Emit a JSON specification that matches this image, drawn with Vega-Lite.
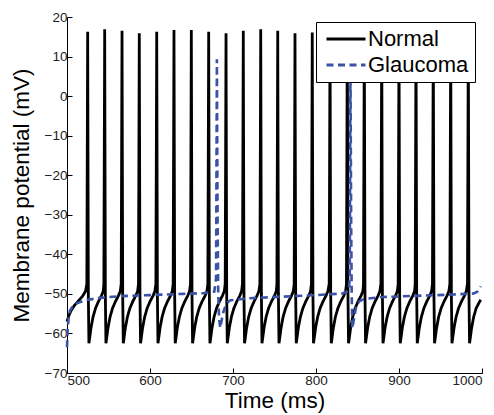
{
"$schema": "https://vega.github.io/schema/vega-lite/v6.json",
"width": 415, "height": 356,
"autosize": {"type": "none"},
"padding": {"left": 67, "top": 17, "right": 12, "bottom": 42},
"background": "white",
"datasets": {
"normal": [
{"s":"Normal","t":500,"v":-57},{"s":"Normal","t":502,"v":-55.6},{"s":"Normal","t":505,"v":-54.2},{"s":"Normal","t":509,"v":-52.9},{"s":"Normal","t":514,"v":-51.7},{"s":"Normal","t":519,"v":-50.5},{"s":"Normal","t":522.4,"v":-49.3},
{"s":"Normal","t":523.9,"v":-47.5},{"s":"Normal","t":524.9,"v":16.3},{"s":"Normal","t":525.7,"v":-50},{"s":"Normal","t":526.4,"v":-62.5},{"s":"Normal","t":527.4,"v":-61},{"s":"Normal","t":528.9,"v":-58.6},{"s":"Normal","t":531.4,"v":-55.8},{"s":"Normal","t":534.4,"v":-53.6},{"s":"Normal","t":537.9,"v":-51.9},{"s":"Normal","t":541.4,"v":-50.5},{"s":"Normal","t":543.7,"v":-49.3},
{"s":"Normal","t":544.4,"v":-47.5},{"s":"Normal","t":545.4,"v":16.9},{"s":"Normal","t":546.2,"v":-50},{"s":"Normal","t":546.9,"v":-62.5},{"s":"Normal","t":547.9,"v":-61},{"s":"Normal","t":549.4,"v":-58.6},{"s":"Normal","t":551.9,"v":-55.8},{"s":"Normal","t":554.9,"v":-53.6},{"s":"Normal","t":558.4,"v":-51.9},{"s":"Normal","t":561.9,"v":-50.5},{"s":"Normal","t":564.2,"v":-49.3},
{"s":"Normal","t":565.3,"v":-47.5},{"s":"Normal","t":566.3,"v":16.5},{"s":"Normal","t":567.1,"v":-50},{"s":"Normal","t":567.8,"v":-62.5},{"s":"Normal","t":568.8,"v":-61},{"s":"Normal","t":570.3,"v":-58.6},{"s":"Normal","t":572.8,"v":-55.8},{"s":"Normal","t":575.8,"v":-53.6},{"s":"Normal","t":579.3,"v":-51.9},{"s":"Normal","t":582.8,"v":-50.5},{"s":"Normal","t":585.1,"v":-49.3},
{"s":"Normal","t":586.1,"v":-47.5},{"s":"Normal","t":587.1,"v":15.9},{"s":"Normal","t":587.9,"v":-50},{"s":"Normal","t":588.6,"v":-62.5},{"s":"Normal","t":589.6,"v":-61},{"s":"Normal","t":591.1,"v":-58.6},{"s":"Normal","t":593.6,"v":-55.8},{"s":"Normal","t":596.6,"v":-53.6},{"s":"Normal","t":600.1,"v":-51.9},{"s":"Normal","t":603.6,"v":-50.5},{"s":"Normal","t":605.9,"v":-49.3},
{"s":"Normal","t":607.1,"v":-47.5},{"s":"Normal","t":608.1,"v":16.3},{"s":"Normal","t":608.9,"v":-50},{"s":"Normal","t":609.6,"v":-62.5},{"s":"Normal","t":610.6,"v":-61},{"s":"Normal","t":612.1,"v":-58.6},{"s":"Normal","t":614.6,"v":-55.8},{"s":"Normal","t":617.6,"v":-53.6},{"s":"Normal","t":621.1,"v":-51.9},{"s":"Normal","t":624.6,"v":-50.5},{"s":"Normal","t":626.9,"v":-49.3},
{"s":"Normal","t":627.9,"v":-47.5},{"s":"Normal","t":628.9,"v":16.7},{"s":"Normal","t":629.7,"v":-50},{"s":"Normal","t":630.4,"v":-62.5},{"s":"Normal","t":631.4,"v":-61},{"s":"Normal","t":632.9,"v":-58.6},{"s":"Normal","t":635.4,"v":-55.8},{"s":"Normal","t":638.4,"v":-53.6},{"s":"Normal","t":641.9,"v":-51.9},{"s":"Normal","t":645.4,"v":-50.5},{"s":"Normal","t":647.7,"v":-49.3},
{"s":"Normal","t":648.8,"v":-47.5},{"s":"Normal","t":649.8,"v":16.7},{"s":"Normal","t":650.6,"v":-50},{"s":"Normal","t":651.3,"v":-62.5},{"s":"Normal","t":652.3,"v":-61},{"s":"Normal","t":653.8,"v":-58.6},{"s":"Normal","t":656.3,"v":-55.8},{"s":"Normal","t":659.3,"v":-53.6},{"s":"Normal","t":662.8,"v":-51.9},{"s":"Normal","t":666.3,"v":-50.5},{"s":"Normal","t":668.6,"v":-49.3},
{"s":"Normal","t":669.7,"v":-47.5},{"s":"Normal","t":670.7,"v":16.3},{"s":"Normal","t":671.5,"v":-50},{"s":"Normal","t":672.2,"v":-62.5},{"s":"Normal","t":673.2,"v":-61},{"s":"Normal","t":674.7,"v":-58.6},{"s":"Normal","t":677.2,"v":-55.8},{"s":"Normal","t":680.2,"v":-53.6},{"s":"Normal","t":683.7,"v":-51.9},{"s":"Normal","t":687.2,"v":-50.5},{"s":"Normal","t":689.5,"v":-49.3},
{"s":"Normal","t":690.6,"v":-47.5},{"s":"Normal","t":691.6,"v":15.9},{"s":"Normal","t":692.4,"v":-50},{"s":"Normal","t":693.1,"v":-62.5},{"s":"Normal","t":694.1,"v":-61},{"s":"Normal","t":695.6,"v":-58.6},{"s":"Normal","t":698.1,"v":-55.8},{"s":"Normal","t":701.1,"v":-53.6},{"s":"Normal","t":704.6,"v":-51.9},{"s":"Normal","t":708.1,"v":-50.5},{"s":"Normal","t":710.4,"v":-49.3},
{"s":"Normal","t":711.4,"v":-47.5},{"s":"Normal","t":712.4,"v":16.5},{"s":"Normal","t":713.2,"v":-50},{"s":"Normal","t":713.9,"v":-62.5},{"s":"Normal","t":714.9,"v":-61},{"s":"Normal","t":716.4,"v":-58.6},{"s":"Normal","t":718.9,"v":-55.8},{"s":"Normal","t":721.9,"v":-53.6},{"s":"Normal","t":725.4,"v":-51.9},{"s":"Normal","t":728.9,"v":-50.5},{"s":"Normal","t":731.2,"v":-49.3},
{"s":"Normal","t":732.4,"v":-47.5},{"s":"Normal","t":733.4,"v":16.9},{"s":"Normal","t":734.2,"v":-50},{"s":"Normal","t":734.9,"v":-62.5},{"s":"Normal","t":735.9,"v":-61},{"s":"Normal","t":737.4,"v":-58.6},{"s":"Normal","t":739.9,"v":-55.8},{"s":"Normal","t":742.9,"v":-53.6},{"s":"Normal","t":746.4,"v":-51.9},{"s":"Normal","t":749.9,"v":-50.5},{"s":"Normal","t":752.2,"v":-49.3},
{"s":"Normal","t":752.9,"v":-47.5},{"s":"Normal","t":753.9,"v":16.5},{"s":"Normal","t":754.7,"v":-50},{"s":"Normal","t":755.4,"v":-62.5},{"s":"Normal","t":756.4,"v":-61},{"s":"Normal","t":757.9,"v":-58.6},{"s":"Normal","t":760.4,"v":-55.8},{"s":"Normal","t":763.4,"v":-53.6},{"s":"Normal","t":766.9,"v":-51.9},{"s":"Normal","t":770.4,"v":-50.5},{"s":"Normal","t":772.7,"v":-49.3},
{"s":"Normal","t":773.7,"v":-47.5},{"s":"Normal","t":774.7,"v":15.9},{"s":"Normal","t":775.5,"v":-50},{"s":"Normal","t":776.2,"v":-62.5},{"s":"Normal","t":777.2,"v":-61},{"s":"Normal","t":778.7,"v":-58.6},{"s":"Normal","t":781.2,"v":-55.8},{"s":"Normal","t":784.2,"v":-53.6},{"s":"Normal","t":787.7,"v":-51.9},{"s":"Normal","t":791.2,"v":-50.5},{"s":"Normal","t":793.5,"v":-49.3},
{"s":"Normal","t":794.5,"v":-47.5},{"s":"Normal","t":795.5,"v":16.1},{"s":"Normal","t":796.3,"v":-50},{"s":"Normal","t":797,"v":-62.5},{"s":"Normal","t":798,"v":-61},{"s":"Normal","t":799.5,"v":-58.6},{"s":"Normal","t":802,"v":-55.8},{"s":"Normal","t":805,"v":-53.6},{"s":"Normal","t":808.5,"v":-51.9},{"s":"Normal","t":812,"v":-50.5},{"s":"Normal","t":814.3,"v":-49.3},
{"s":"Normal","t":815.9,"v":-47.5},{"s":"Normal","t":816.9,"v":16.3},{"s":"Normal","t":817.7,"v":-50},{"s":"Normal","t":818.4,"v":-62.5},{"s":"Normal","t":819.4,"v":-61},{"s":"Normal","t":820.9,"v":-58.6},{"s":"Normal","t":823.4,"v":-55.8},{"s":"Normal","t":826.4,"v":-53.6},{"s":"Normal","t":829.9,"v":-51.9},{"s":"Normal","t":833.4,"v":-50.5},{"s":"Normal","t":835.7,"v":-49.3},
{"s":"Normal","t":836.7,"v":-47.5},{"s":"Normal","t":837.7,"v":16.5},{"s":"Normal","t":838.5,"v":-50},{"s":"Normal","t":839.2,"v":-62.5},{"s":"Normal","t":840.2,"v":-61},{"s":"Normal","t":841.7,"v":-58.6},{"s":"Normal","t":844.2,"v":-55.8},{"s":"Normal","t":847.2,"v":-53.6},{"s":"Normal","t":850.7,"v":-51.9},{"s":"Normal","t":854.2,"v":-50.5},{"s":"Normal","t":856.5,"v":-49.3},
{"s":"Normal","t":857.2,"v":-47.5},{"s":"Normal","t":858.2,"v":16.7},{"s":"Normal","t":859,"v":-50},{"s":"Normal","t":859.7,"v":-62.5},{"s":"Normal","t":860.7,"v":-61},{"s":"Normal","t":862.2,"v":-58.6},{"s":"Normal","t":864.7,"v":-55.8},{"s":"Normal","t":867.7,"v":-53.6},{"s":"Normal","t":871.2,"v":-51.9},{"s":"Normal","t":874.7,"v":-50.5},{"s":"Normal","t":877,"v":-49.3},
{"s":"Normal","t":878.2,"v":-47.5},{"s":"Normal","t":879.2,"v":16.3},{"s":"Normal","t":880,"v":-50},{"s":"Normal","t":880.7,"v":-62.5},{"s":"Normal","t":881.7,"v":-61},{"s":"Normal","t":883.2,"v":-58.6},{"s":"Normal","t":885.7,"v":-55.8},{"s":"Normal","t":888.7,"v":-53.6},{"s":"Normal","t":892.2,"v":-51.9},{"s":"Normal","t":895.7,"v":-50.5},{"s":"Normal","t":898,"v":-49.3},
{"s":"Normal","t":899,"v":-47.5},{"s":"Normal","t":900,"v":16.1},{"s":"Normal","t":900.8,"v":-50},{"s":"Normal","t":901.5,"v":-62.5},{"s":"Normal","t":902.5,"v":-61},{"s":"Normal","t":904,"v":-58.6},{"s":"Normal","t":906.5,"v":-55.8},{"s":"Normal","t":909.5,"v":-53.6},{"s":"Normal","t":913,"v":-51.9},{"s":"Normal","t":916.5,"v":-50.5},{"s":"Normal","t":918.8,"v":-49.3},
{"s":"Normal","t":919.5,"v":-47.5},{"s":"Normal","t":920.5,"v":16.5},{"s":"Normal","t":921.3,"v":-50},{"s":"Normal","t":922,"v":-62.5},{"s":"Normal","t":923,"v":-61},{"s":"Normal","t":924.5,"v":-58.6},{"s":"Normal","t":927,"v":-55.8},{"s":"Normal","t":930,"v":-53.6},{"s":"Normal","t":933.5,"v":-51.9},{"s":"Normal","t":937,"v":-50.5},{"s":"Normal","t":939.3,"v":-49.3},
{"s":"Normal","t":940.3,"v":-47.5},{"s":"Normal","t":941.3,"v":16.7},{"s":"Normal","t":942.1,"v":-50},{"s":"Normal","t":942.8,"v":-62.5},{"s":"Normal","t":943.8,"v":-61},{"s":"Normal","t":945.3,"v":-58.6},{"s":"Normal","t":947.8,"v":-55.8},{"s":"Normal","t":950.8,"v":-53.6},{"s":"Normal","t":954.3,"v":-51.9},{"s":"Normal","t":957.8,"v":-50.5},{"s":"Normal","t":960.1,"v":-49.3},
{"s":"Normal","t":961.3,"v":-47.5},{"s":"Normal","t":962.3,"v":16.3},{"s":"Normal","t":963.1,"v":-50},{"s":"Normal","t":963.8,"v":-62.5},{"s":"Normal","t":964.8,"v":-61},{"s":"Normal","t":966.3,"v":-58.6},{"s":"Normal","t":968.8,"v":-55.8},{"s":"Normal","t":971.8,"v":-53.6},{"s":"Normal","t":975.3,"v":-51.9},{"s":"Normal","t":978.8,"v":-50.5},{"s":"Normal","t":981.1,"v":-49.3},
{"s":"Normal","t":982.5,"v":-47.5},{"s":"Normal","t":983.5,"v":16.5},{"s":"Normal","t":984.3,"v":-50},{"s":"Normal","t":985,"v":-62.5},{"s":"Normal","t":986,"v":-61},{"s":"Normal","t":987.5,"v":-58.6},{"s":"Normal","t":990,"v":-55.8},{"s":"Normal","t":993,"v":-53.6},{"s":"Normal","t":996.5,"v":-52.2},{"s":"Normal","t":998.5,"v":-51.5}
],
"glaucoma": [
{"s":"Glaucoma","t":500,"v":-63.5},{"s":"Glaucoma","t":500.8,"v":-59},{"s":"Glaucoma","t":502,"v":-56},{"s":"Glaucoma","t":503.6,"v":-54.2},{"s":"Glaucoma","t":507,"v":-53.1},{"s":"Glaucoma","t":511.7,"v":-52.4},{"s":"Glaucoma","t":521.7,"v":-51.6},{"s":"Glaucoma","t":540,"v":-51},{"s":"Glaucoma","t":562,"v":-50.6},{"s":"Glaucoma","t":600,"v":-50.3},{"s":"Glaucoma","t":640,"v":-50},{"s":"Glaucoma","t":665,"v":-49.8},{"s":"Glaucoma","t":677.5,"v":-49.4},{"s":"Glaucoma","t":679.6,"v":-46},{"s":"Glaucoma","t":680.6,"v":9.3},{"s":"Glaucoma","t":681.4,"v":-30},{"s":"Glaucoma","t":682.2,"v":-50},{"s":"Glaucoma","t":683.2,"v":-56},{"s":"Glaucoma","t":684.6,"v":-58.6},{"s":"Glaucoma","t":686,"v":-57},{"s":"Glaucoma","t":688.5,"v":-54.5},{"s":"Glaucoma","t":692,"v":-52.4},{"s":"Glaucoma","t":697,"v":-51.6},{"s":"Glaucoma","t":720,"v":-51.1},{"s":"Glaucoma","t":760,"v":-50.7},{"s":"Glaucoma","t":800,"v":-50.3},{"s":"Glaucoma","t":832,"v":-49.9},{"s":"Glaucoma","t":839.5,"v":-49.2},{"s":"Glaucoma","t":840.7,"v":-46},{"s":"Glaucoma","t":841.5,"v":10},{"s":"Glaucoma","t":842.3,"v":-30},{"s":"Glaucoma","t":843,"v":-50},{"s":"Glaucoma","t":843.8,"v":-58.7},{"s":"Glaucoma","t":845.2,"v":-57},{"s":"Glaucoma","t":848,"v":-53.6},{"s":"Glaucoma","t":852,"v":-51.9},{"s":"Glaucoma","t":858,"v":-51.3},{"s":"Glaucoma","t":880,"v":-50.8},{"s":"Glaucoma","t":920,"v":-50.5},{"s":"Glaucoma","t":960,"v":-50.2},{"s":"Glaucoma","t":990,"v":-49.9},{"s":"Glaucoma","t":994,"v":-49.5},{"s":"Glaucoma","t":996.5,"v":-48.9},{"s":"Glaucoma","t":998.5,"v":-48.1}
]
},
"encoding": {
  "x": {"field": "t", "type": "quantitative", "scale": {"domain": [500, 1000], "nice": false, "zero": false}, "axis": {"title": "Time (ms)", "values": [500, 600, 700, 800, 900, 1000], "format": "d"}},
  "y": {"field": "v", "type": "quantitative", "scale": {"domain": [-70, 20], "nice": false, "zero": false}, "axis": {"title": "Membrane potential (mV)", "values": [-70, -60, -50, -40, -30, -20, -10, 0, 10, 20], "format": "d"}},
  "color": {"field": "s", "type": "nominal", "scale": {"domain": ["Normal", "Glaucoma"], "range": ["#000000", "#3a52a8"]},
    "legend": {"title": null, "orient": "none", "legendX": 249, "legendY": 5}},
  "strokeDash": {"field": "s", "type": "nominal", "scale": {"domain": ["Normal", "Glaucoma"], "range": [[1, 0], [7, 4.5]]},
    "legend": {"title": null, "orient": "none", "legendX": 249, "legendY": 5}}
},
"layer": [
  {"data": {"name": "normal"}, "mark": {"type": "line", "strokeWidth": 2.8, "strokeJoin": "bevel"}},
  {"data": {"name": "glaucoma"}, "mark": {"type": "line", "strokeWidth": 2.6}}
],
"config": {
  "view": {"stroke": null},
  "axis": {"grid": false, "domainColor": "#000000", "domainWidth": 1, "tickColor": "#000000", "tickSize": -5, "tickWidth": 1, "labelPadding": 5, "labelFont": "Liberation Sans", "labelFontSize": 13.5, "labelColor": "#222222", "titleFont": "Liberation Sans", "titleFontSize": 22.5, "titleFontWeight": "normal", "titleColor": "#000000"},
  "axisX": {"titlePadding": 3},
  "axisY": {"titlePadding": 11},
  "legend": {"symbolType": "M-3,0H3", "symbolSize": 169, "symbolStrokeWidth": 3, "symbolOffset": 13, "labelOffset": 11, "labelFont": "Liberation Sans", "labelFontSize": 22, "labelColor": "#000000", "padding": 6, "strokeColor": "#000000", "fillColor": "#ffffff", "rowPadding": 4, "cornerRadius": 0, "strokeWidth": 1}
}
}
